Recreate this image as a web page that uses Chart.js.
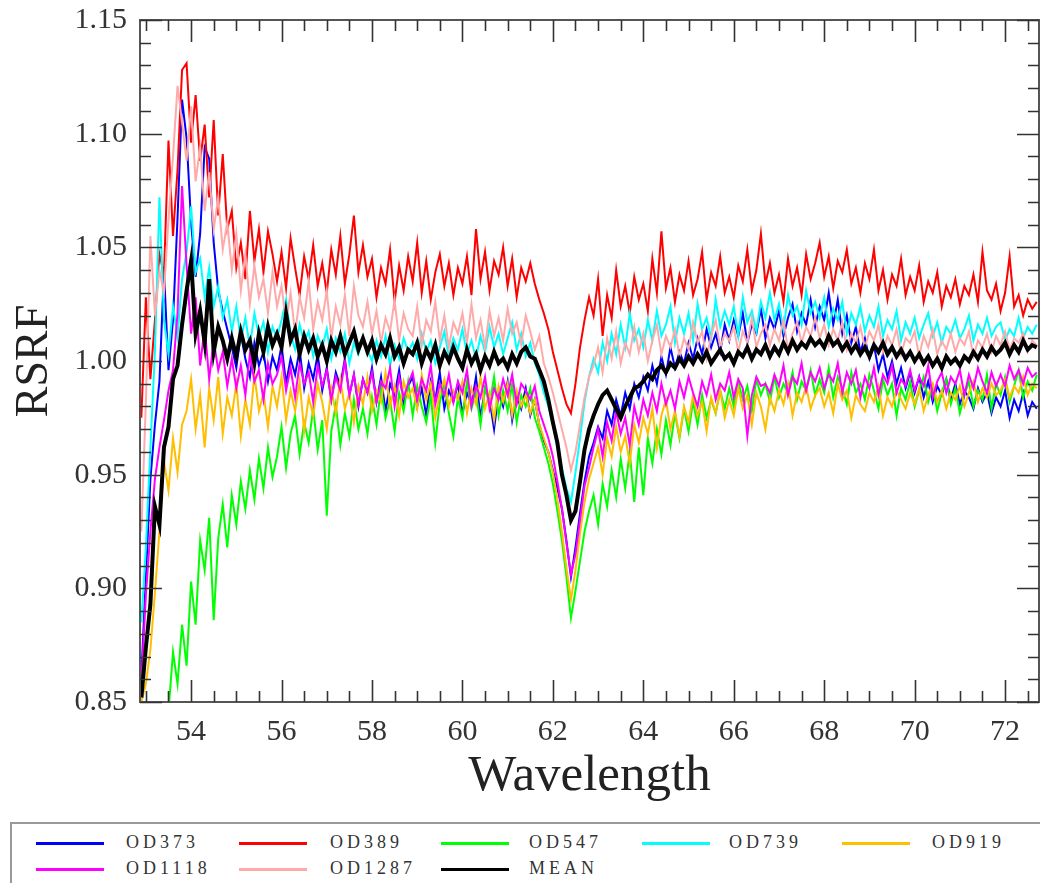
<!DOCTYPE html>
<html>
<head>
<meta charset="utf-8">
<script src="https://cdn.jsdelivr.net/npm/chart.js@4/dist/chart.umd.min.js"></script>
<style>
  html, body { margin: 0; padding: 0; background: #fff; }
  #wrap { position: relative; width: 1040px; height: 883px; overflow: hidden; }
  #plot { position: absolute; left: 0; top: 0; }
  #key { position: absolute; left: 10px; top: 822px; width: 1100px; height: 120px;
         border: 2px solid #999; box-sizing: border-box; }
  .swatch { position: absolute; width: 68px; height: 3px; }
  .name { position: absolute; font: 18px "Liberation Serif", serif; color: #333;
          letter-spacing: 4px; line-height: 20px; }
</style>
</head>
<body>
<div id="wrap">
  <canvas id="plot" width="1040" height="810"></canvas>
  <div id="key"></div>
</div>
<script>
// wavelength grid, one row per 10 samples
const wavelength = [
  52.9, 53.0, 53.1, 53.2, 53.3, 53.4, 53.5, 53.6, 53.7, 53.8,
  53.9, 54.0, 54.1, 54.2, 54.3, 54.4, 54.5, 54.6, 54.7, 54.8,
  54.9, 55.0, 55.1, 55.2, 55.3, 55.4, 55.5, 55.6, 55.7, 55.8,
  55.9, 56.0, 56.1, 56.2, 56.3, 56.4, 56.5, 56.6, 56.7, 56.8,
  56.9, 57.0, 57.1, 57.2, 57.3, 57.4, 57.5, 57.6, 57.7, 57.8,
  57.9, 58.0, 58.1, 58.2, 58.3, 58.4, 58.5, 58.6, 58.7, 58.8,
  58.9, 59.0, 59.1, 59.2, 59.3, 59.4, 59.5, 59.6, 59.7, 59.8,
  59.9, 60.0, 60.1, 60.2, 60.3, 60.4, 60.5, 60.6, 60.7, 60.8,
  60.9, 61.0, 61.1, 61.2, 61.3, 61.4, 61.5, 61.6, 61.7, 61.8,
  61.9, 62.0, 62.1, 62.2, 62.3, 62.4, 62.5, 62.6, 62.7, 62.8,
  62.9, 63.0, 63.1, 63.2, 63.3, 63.4, 63.5, 63.6, 63.7, 63.8,
  63.9, 64.0, 64.1, 64.2, 64.3, 64.4, 64.5, 64.6, 64.7, 64.8,
  64.9, 65.0, 65.1, 65.2, 65.3, 65.4, 65.5, 65.6, 65.7, 65.8,
  65.9, 66.0, 66.1, 66.2, 66.3, 66.4, 66.5, 66.6, 66.7, 66.8,
  66.9, 67.0, 67.1, 67.2, 67.3, 67.4, 67.5, 67.6, 67.7, 67.8,
  67.9, 68.0, 68.1, 68.2, 68.3, 68.4, 68.5, 68.6, 68.7, 68.8,
  68.9, 69.0, 69.1, 69.2, 69.3, 69.4, 69.5, 69.6, 69.7, 69.8,
  69.9, 70.0, 70.1, 70.2, 70.3, 70.4, 70.5, 70.6, 70.7, 70.8,
  70.9, 71.0, 71.1, 71.2, 71.3, 71.4, 71.5, 71.6, 71.7, 71.8,
  71.9, 72.0, 72.1, 72.2, 72.3, 72.4, 72.5, 72.6, 72.7
];

const od373 = [
  0.862, 0.905, 0.948, 0.972, 0.991, 1.040, 0.996, 1.018, 1.063, 1.115,
  1.098, 1.061, 1.037, 1.056, 1.094, 1.089, 1.052, 1.031, 1.022, 1.014,
  1.006, 0.997, 1.012, 1.001, 0.993, 1.008, 0.998, 1.004, 0.991, 1.002,
  0.996, 1.007, 0.990, 1.001, 0.994, 1.005, 0.988, 0.999, 0.992, 1.003,
  0.987, 0.997, 0.983, 0.995, 0.989, 1.001, 0.985, 0.994, 0.980, 0.992,
  0.986, 0.997, 0.982, 0.993, 0.978, 0.990, 0.985, 0.996, 0.981, 0.989,
  0.993, 0.980, 0.988, 0.976, 0.991, 0.983, 0.995, 0.979, 0.987, 0.982,
  0.990, 0.977, 0.986, 0.981, 0.993, 0.975, 0.988, 0.983, 0.970, 0.986,
  0.980, 0.991, 0.974, 0.985, 0.979, 0.988, 0.976, 0.983, 0.972, 0.965,
  0.960, 0.952, 0.944, 0.935, 0.921, 0.905, 0.918, 0.933, 0.947, 0.958,
  0.964, 0.971, 0.966, 0.978, 0.972, 0.983, 0.976, 0.986, 0.979, 0.990,
  0.984, 0.993, 0.987, 0.998, 0.990, 1.002, 0.994, 1.006, 0.997, 1.004,
  0.999, 1.008, 1.001, 1.010, 1.003, 1.014, 1.006, 1.012, 1.004, 1.016,
  1.009, 1.018, 1.011, 1.021, 1.008, 1.016, 1.012, 1.023, 1.010, 1.019,
  1.014, 1.022, 1.011, 1.019, 1.025, 1.013, 1.021, 1.016, 1.027, 1.015,
  1.024, 1.018, 1.030, 1.016, 1.027, 1.012, 1.020, 1.008, 1.015, 1.004,
  1.010, 1.001, 1.007, 0.996, 1.003, 0.993, 1.000, 0.990, 0.997, 0.988,
  0.995, 0.986, 0.993, 0.984, 0.991, 0.982, 0.989, 0.985, 0.992, 0.983,
  0.990, 0.981, 0.987, 0.984, 0.979, 0.988, 0.982, 0.986, 0.977, 0.984,
  0.980, 0.987, 0.975, 0.983, 0.978, 0.986, 0.976, 0.982, 0.979
];

const od389 = [
  0.975, 1.028, 0.992, 1.018, 1.047, 1.038, 1.097, 1.055, 1.084, 1.128,
  1.131, 1.096, 1.117, 1.088, 1.104, 1.072, 1.106, 1.064, 1.091, 1.058,
  1.066, 1.041, 1.052, 1.036, 1.066, 1.044, 1.058, 1.039, 1.057, 1.047,
  1.035, 1.048, 1.032, 1.054, 1.041, 1.029, 1.046, 1.036, 1.051, 1.033,
  1.043, 1.030, 1.049, 1.038, 1.055, 1.034, 1.047, 1.064, 1.039, 1.051,
  1.037, 1.045, 1.028, 1.041, 1.034, 1.049, 1.026, 1.042, 1.031, 1.046,
  1.035, 1.052, 1.030, 1.044, 1.027, 1.039, 1.047, 1.033, 1.043, 1.029,
  1.041, 1.034, 1.046, 1.029, 1.058, 1.036, 1.048, 1.031, 1.044, 1.038,
  1.050, 1.033, 1.045, 1.028, 1.041, 1.035, 1.043, 1.034, 1.027, 1.021,
  1.014, 1.004, 0.996, 0.988, 0.981, 0.977, 0.990, 1.006, 1.018, 1.028,
  1.020, 1.036, 1.011, 1.029, 1.019, 1.040, 1.024, 1.033, 1.021, 1.037,
  1.027, 1.034, 1.022, 1.045, 1.030, 1.057, 1.032, 1.041, 1.026, 1.038,
  1.031, 1.044, 1.029, 1.036, 1.048, 1.027, 1.039, 1.033, 1.046, 1.030,
  1.037, 1.028, 1.042, 1.035, 1.049, 1.031, 1.040, 1.056, 1.034, 1.043,
  1.030, 1.038, 1.026, 1.045, 1.033, 1.041, 1.029, 1.047, 1.036, 1.043,
  1.052, 1.037, 1.046, 1.032, 1.044, 1.039, 1.049, 1.034, 1.041, 1.030,
  1.043, 1.036, 1.049, 1.031, 1.040, 1.027, 1.038, 1.033, 1.045, 1.029,
  1.037, 1.031, 1.042, 1.026, 1.035, 1.030, 1.039, 1.024, 1.033, 1.028,
  1.036, 1.025, 1.033, 1.029, 1.038, 1.026, 1.048, 1.031, 1.027, 1.034,
  1.022, 1.030, 1.046, 1.024, 1.029, 1.020, 1.027, 1.023, 1.026
];

const od547 = [
  0.795, 0.785, 0.800, 0.805, 0.812, 0.828, 0.846, 0.872, 0.858, 0.884,
  0.866, 0.903, 0.884, 0.921, 0.908, 0.931, 0.886, 0.922, 0.937, 0.918,
  0.941, 0.928, 0.947, 0.935, 0.952, 0.939, 0.957, 0.944, 0.962, 0.949,
  0.958, 0.971, 0.953, 0.968, 0.976, 0.959, 0.973, 0.964, 0.979, 0.961,
  0.974, 0.932, 0.969, 0.981, 0.963, 0.977, 0.967, 0.983, 0.970, 0.979,
  0.968, 0.984, 0.972, 0.988, 0.975, 0.983, 0.969, 0.986, 0.978, 0.991,
  0.976, 0.989, 0.980, 0.973, 0.985, 0.964, 0.982, 0.990, 0.977, 0.967,
  0.984, 0.975, 0.991, 0.979, 0.986, 0.972, 0.988, 0.981, 0.993, 0.976,
  0.987, 0.978, 0.990, 0.973, 0.985, 0.980, 0.988, 0.975, 0.969, 0.962,
  0.955, 0.946, 0.934, 0.921, 0.905, 0.887, 0.899, 0.912, 0.925, 0.934,
  0.941, 0.928, 0.946, 0.936, 0.952, 0.940, 0.957, 0.944, 0.960, 0.938,
  0.962, 0.941, 0.966, 0.955, 0.970, 0.959, 0.974, 0.963, 0.977, 0.966,
  0.979, 0.969, 0.982, 0.972, 0.985, 0.975, 0.983, 0.977, 0.987, 0.979,
  0.988, 0.980, 0.991, 0.983, 0.989, 0.978, 0.992, 0.985, 0.990, 0.982,
  0.993, 0.984, 0.990, 0.986, 0.995, 0.983, 0.991, 0.987, 0.996, 0.985,
  0.992, 0.986, 0.997, 0.984, 0.993, 0.988, 0.981, 0.995, 0.986, 0.990,
  0.983, 0.994, 0.987, 0.979, 0.992, 0.985, 0.990, 0.976, 0.988, 0.983,
  0.991, 0.980, 0.987, 0.993, 0.982, 0.989, 0.978, 0.986, 0.992, 0.981,
  0.988, 0.977, 0.985, 0.991, 0.980, 0.987, 0.983, 0.994, 0.979, 0.990,
  0.985, 0.993, 0.982, 0.989, 0.996, 0.984, 0.991, 0.987, 0.994
];

const od739 = [
  0.885, 0.918, 0.962, 1.004, 1.072, 1.018, 1.003, 1.024, 1.011, 1.036,
  1.048, 1.068, 1.039, 1.045, 1.028, 1.041, 1.024, 1.033, 1.019, 1.027,
  1.013, 1.024, 1.009, 1.019, 1.006, 1.021, 1.011, 1.017, 1.004, 1.015,
  1.010, 1.018, 1.027, 1.012, 1.005, 1.016, 1.008, 1.013, 1.002, 1.011,
  1.006, 1.014, 1.001, 1.010, 1.004, 1.012, 0.999, 1.008, 1.003, 1.011,
  1.005, 1.000, 1.009, 1.002, 1.011, 0.998, 1.007, 1.001, 1.010, 1.004,
  1.008, 1.001, 1.012, 1.004, 1.009, 0.999, 1.006, 1.013, 1.002, 1.010,
  1.005, 1.014, 1.003, 1.009, 1.001, 1.011, 1.004, 1.015, 1.006, 1.012,
  1.003, 1.010, 1.017, 1.005, 1.012, 1.002, 1.008, 0.999, 0.994, 0.986,
  0.980, 0.972, 0.962, 0.953, 0.944, 0.938, 0.951, 0.966, 0.982, 0.993,
  1.001, 0.995, 1.008, 1.000, 1.012, 1.003, 1.016, 1.006, 1.021, 1.009,
  1.014, 1.006, 1.018, 1.009, 1.022, 1.011, 1.016, 1.024, 1.008, 1.019,
  1.012, 1.021, 1.009, 1.025, 1.014, 1.019, 1.010, 1.027, 1.015, 1.022,
  1.016, 1.024, 1.011, 1.028, 1.017, 1.022, 1.013, 1.026, 1.019, 1.030,
  1.018, 1.025, 1.014, 1.029, 1.020, 1.024, 1.016, 1.031, 1.021, 1.026,
  1.019, 1.028, 1.015, 1.023, 1.018, 1.026, 1.012, 1.021, 1.016, 1.024,
  1.013, 1.020, 1.015, 1.024, 1.011, 1.018, 1.014, 1.022, 1.009, 1.017,
  1.012, 1.019, 1.010, 1.016, 1.021, 1.011, 1.017, 1.008, 1.015, 1.012,
  1.018, 1.010, 1.014, 1.020, 1.009, 1.016, 1.012, 1.019, 1.011, 1.015,
  1.017, 1.009, 1.014, 1.011, 1.019, 1.010, 1.015, 1.012, 1.016
];

const od919 = [
  0.850, 0.858, 0.873, 0.898, 0.925, 0.956, 0.943, 0.966, 0.951, 0.972,
  0.978, 0.992, 0.970, 0.985, 0.962, 0.988, 0.974, 0.993, 0.968, 0.984,
  0.976, 0.990, 0.967, 0.983, 0.972, 0.994, 0.978, 0.986, 0.971, 0.989,
  0.980, 0.993, 0.974, 0.987, 0.978, 0.991, 0.969, 0.984, 0.976, 0.990,
  0.982, 0.970, 0.988, 0.977, 0.992, 0.979, 0.986, 0.973, 0.989, 0.981,
  0.993, 0.978, 0.987, 0.982, 0.995, 0.980, 0.989, 0.976, 0.991, 0.984,
  0.988, 0.979, 0.994, 0.983, 0.990, 0.975, 0.986, 0.992, 0.980, 0.987,
  0.983, 0.991, 0.977, 0.988, 0.981, 0.993, 0.979, 0.986, 0.974, 0.989,
  0.982, 0.990, 0.976, 0.987, 0.980, 0.985, 0.977, 0.983, 0.972, 0.966,
  0.960, 0.951, 0.939, 0.925, 0.909, 0.895, 0.908, 0.924, 0.938, 0.948,
  0.955, 0.962, 0.950, 0.966, 0.958, 0.971, 0.960, 0.967, 0.955, 0.972,
  0.964, 0.975, 0.968, 0.979, 0.962, 0.976, 0.983, 0.970, 0.978, 0.967,
  0.980, 0.973, 0.985, 0.976, 0.982, 0.969, 0.984, 0.977, 0.987, 0.975,
  0.983, 0.976, 0.988, 0.979, 0.985, 0.972, 0.986, 0.980, 0.970, 0.984,
  0.978, 0.987, 0.981, 0.990, 0.976, 0.986, 0.982, 0.989, 0.979, 0.985,
  0.988, 0.980, 0.986, 0.977, 0.990, 0.983, 0.987, 0.975, 0.985, 0.981,
  0.978, 0.986, 0.982, 0.989, 0.976, 0.984, 0.980, 0.987, 0.983, 0.979,
  0.986, 0.981, 0.988, 0.978, 0.985, 0.990, 0.982, 0.987, 0.979, 0.986,
  0.983, 0.989, 0.980, 0.986, 0.991, 0.982, 0.988, 0.984, 0.990, 0.985,
  0.987, 0.992, 0.984, 0.989, 0.986, 0.993, 0.985, 0.990, 0.988
];

const od1118 = [
  0.858, 0.897, 0.925, 0.948, 0.962, 0.974, 0.987, 0.996, 1.021, 1.077,
  1.042, 1.012, 1.028, 0.998, 1.015, 0.992, 1.009, 0.996, 1.004, 0.989,
  1.001, 0.988, 0.998, 0.985, 1.003, 0.991, 0.996, 0.983, 0.999, 0.990,
  0.994, 1.002, 0.987, 0.997, 0.984, 0.999, 0.990, 0.995, 0.982, 0.998,
  0.989, 0.996, 0.983, 0.993, 0.987, 1.000, 0.985, 0.994, 0.981, 0.992,
  0.986, 0.995, 0.982, 0.991, 0.988, 0.997, 0.980, 0.993, 0.984, 0.990,
  0.995, 0.983, 0.992, 0.987, 0.998, 0.981, 0.990, 0.985, 0.994, 0.982,
  0.991, 0.986, 0.996, 0.980, 0.989, 0.984, 0.993, 0.979, 0.988, 0.983,
  0.992, 0.985, 0.994, 0.981, 0.990, 0.987, 0.983, 0.989, 0.978, 0.972,
  0.966, 0.958, 0.947, 0.935, 0.920, 0.906, 0.915, 0.930, 0.945, 0.953,
  0.962, 0.970, 0.958, 0.973, 0.965, 0.978, 0.968, 0.975, 0.963, 0.980,
  0.972, 0.983, 0.976, 0.986, 0.978, 0.990, 0.981, 0.987, 0.979, 0.991,
  0.984, 0.993, 0.986, 0.980, 0.991, 0.985, 0.994, 0.983, 0.990, 0.987,
  0.995, 0.984, 0.992, 0.988, 0.967, 0.985, 0.993, 0.989, 0.990, 0.986,
  0.994, 0.989, 0.998, 0.985, 0.993, 0.990, 0.999, 0.987, 0.995, 0.991,
  0.997, 0.988, 0.994, 0.991, 0.999, 0.986, 0.995, 0.990, 0.996, 0.984,
  0.993, 0.988, 0.997, 0.985, 0.994, 0.990, 0.998, 0.986, 0.992, 0.989,
  0.996, 0.987, 0.993, 0.989, 0.998, 0.984, 0.991, 0.995, 0.986, 0.993,
  0.990, 0.996, 0.985, 0.994, 0.988, 0.997, 0.991, 0.986, 0.995, 0.989,
  0.994, 0.989, 0.998, 0.992, 0.996, 0.990, 0.997, 0.993, 0.995
];

const od1287 = [
  0.925, 0.982, 1.055, 1.020, 1.040, 1.030, 1.062, 1.090, 1.121, 1.105,
  1.088, 1.112, 1.079, 1.094, 1.066, 1.083, 1.058, 1.072, 1.049, 1.061,
  1.040, 1.056, 1.031, 1.047, 1.025, 1.042, 1.028, 1.036, 1.021, 1.039,
  1.024, 1.033, 1.017, 1.030, 1.012, 1.028, 1.019, 1.035, 1.014, 1.026,
  1.018, 1.031, 1.010, 1.024, 1.016, 1.029, 1.011, 1.033, 1.020, 1.015,
  1.026, 1.012, 1.022, 1.008, 1.019, 1.013, 1.027, 1.009, 1.021, 1.014,
  1.011, 1.024, 1.007, 1.018, 1.013, 1.026, 1.009, 1.020, 1.006, 1.017,
  1.012, 1.021, 1.008, 1.025, 1.010, 1.018, 1.006, 1.022, 1.011, 1.019,
  1.009, 1.023, 1.012, 1.017, 1.007, 1.020, 1.013, 1.005, 1.011, 0.999,
  0.993, 0.986, 0.978, 0.970, 0.962, 0.952, 0.960, 0.972, 0.984, 0.993,
  0.998, 1.006, 0.995, 1.010, 1.001, 1.013, 0.999, 1.008, 1.003, 1.015,
  1.004, 1.012, 1.000, 1.009, 1.016, 1.003, 1.011, 1.006, 1.014, 1.002,
  1.010, 1.005, 1.017, 1.008, 1.013, 1.001, 1.011, 1.018, 1.006, 1.012,
  1.009, 1.015, 1.004, 1.013, 1.008, 1.019, 1.006, 1.012, 1.016, 1.007,
  1.014, 1.009, 1.018, 1.005, 1.012, 1.017, 1.008, 1.015, 1.011, 1.019,
  1.010, 1.016, 1.007, 1.014, 1.009, 1.017, 1.005, 1.012, 1.008, 1.015,
  1.006, 1.013, 1.009, 1.016, 1.004, 1.011, 1.007, 1.014, 1.003, 1.010,
  1.008, 1.013, 1.002, 1.011, 1.006, 1.014, 1.003, 1.009, 1.005, 1.012,
  1.004, 1.010, 1.007, 1.013, 1.002, 1.009, 1.006, 1.012, 1.004, 1.011,
  1.007, 1.013, 1.005, 1.010, 1.008, 1.012, 1.004, 1.009, 1.007
];

const mean = [
  0.852, 0.874, 0.893, 0.936, 0.928, 0.962, 0.971, 0.992, 0.998, 1.016,
  1.031, 1.044, 1.012, 1.022, 1.008, 1.036, 1.004, 1.015, 1.009, 1.001,
  1.010, 1.002, 1.013, 1.005, 1.009, 0.999, 1.012, 1.004, 1.015, 1.007,
  1.012, 1.006, 1.021, 1.009, 1.014, 1.003, 1.011, 1.005, 1.010, 1.002,
  1.007, 1.000, 1.009, 1.004, 1.011, 1.003, 1.008, 1.013, 1.005, 1.010,
  1.004, 1.009, 1.001, 1.007, 1.003, 1.010, 1.002, 1.006, 0.999, 1.005,
  1.003, 1.008, 0.999, 1.005, 1.001, 1.007, 0.998, 1.004, 1.000, 1.006,
  1.001, 0.997, 1.005, 0.999, 1.003, 0.996, 1.002, 0.998, 1.004, 0.999,
  1.001, 0.997, 1.003, 0.999, 1.004, 1.006, 1.002, 1.001, 0.996, 0.991,
  0.983, 0.973, 0.964, 0.950, 0.941, 0.930, 0.934, 0.947, 0.961, 0.970,
  0.976, 0.981, 0.985, 0.987, 0.983, 0.979, 0.975, 0.980, 0.984, 0.988,
  0.989, 0.991, 0.994, 0.992, 0.996, 0.998, 0.995, 0.999, 0.997, 1.001,
  0.998, 1.002, 0.999, 1.003, 1.000, 1.004, 0.999, 1.002, 1.005, 1.001,
  1.003, 0.999, 1.004, 1.002, 1.006, 1.001, 1.005, 1.003, 1.007, 1.002,
  1.006, 1.003, 1.008, 1.004, 1.009, 1.005, 1.008, 1.006, 1.010, 1.007,
  1.009, 1.006, 1.011, 1.007, 1.009, 1.005, 1.008, 1.004, 1.007, 1.003,
  1.006, 1.002, 1.007, 1.004, 1.008, 1.003, 1.006, 1.002, 1.005, 1.001,
  1.004, 1.000, 1.003, 0.999, 1.002, 0.998, 1.001, 0.997, 1.002, 0.999,
  1.001, 0.998, 1.002, 1.000, 1.004, 1.001, 1.005, 1.002, 1.006, 1.003,
  1.005, 1.008, 1.003, 1.007, 1.004, 1.009, 1.005, 1.007, 1.006
];

const seriesNames = ['OD373', 'OD389', 'OD547', 'OD739', 'OD919', 'OD1118', 'OD1287', 'MEAN'];
const seriesValues = [od373, od389, od547, od739, od919, od1118, od1287, mean];
const seriesColors = ['#0000ff', '#ff0000', '#00ff00', '#00ffff', '#ffbf00', '#ff00ff', '#ffaaaa', '#000000'];

// frame round the plot with inward ticks on all four sides
const axisFrame = {
  id: 'axisFrame',
  afterDatasetsDraw(chart) {
    const { ctx, chartArea: a, scales: { x, y } } = chart;
    ctx.save();
    ctx.strokeStyle = '#555';
    ctx.lineWidth = 2;
    ctx.strokeRect(a.left, a.top, a.right - a.left, a.bottom - a.top);
    ctx.strokeStyle = '#333';
    ctx.lineWidth = 1.6;
    ctx.beginPath();
    for (let k = 106; k <= 145; k++) {          // every 0.5 in wavelength
      const px = Math.round(x.getPixelForValue(k / 2)) + 0.5;
      if (px <= a.left + 1 || px >= a.right - 1) continue;
      const len = k % 4 === 0 ? 22 : 11;
      ctx.moveTo(px, a.bottom); ctx.lineTo(px, a.bottom - len);
      ctx.moveTo(px, a.top); ctx.lineTo(px, a.top + len);
    }
    for (let k = 85; k <= 115; k++) {           // every 0.01 in RSRF
      const py = Math.round(y.getPixelForValue(k / 100)) + 0.5;
      const len = k % 5 === 0 ? 22 : 11;
      ctx.moveTo(a.left, py); ctx.lineTo(a.left + len, py);
      ctx.moveTo(a.right, py); ctx.lineTo(a.right - len, py);
    }
    ctx.stroke();
    ctx.restore();
  }
};

const serif = '"Liberation Serif", "Times New Roman", serif';

const datasets = seriesNames.map((name, i) => ({
  label: name,
  data: wavelength.map((w, j) => ({ x: w, y: seriesValues[i][j] })),
  borderColor: seriesColors[i],
  backgroundColor: seriesColors[i],
  borderWidth: name === 'MEAN' ? 4 : 2,
  pointRadius: 0,
  tension: 0,
  order: seriesNames.length - 1 - i   // MEAN ends up on top
}));

new Chart(document.getElementById('plot'), {
  type: 'line',
  data: { datasets },
  options: {
    responsive: false,
    animation: false,
    devicePixelRatio: 1,
    layout: { padding: { left: 0, top: 20, right: 1, bottom: 0 } },
    plugins: {
      legend: { display: false },
      tooltip: { enabled: false }
    },
    scales: {
      x: {
        type: 'linear',
        min: 52.87,
        max: 72.75,
        grid: { display: false, drawTicks: false, tickLength: 0 },
        border: { display: false },
        afterFit: (s) => { s.height = 108; s.paddingLeft = 0; s.paddingRight = 0; },
        ticks: {
          stepSize: 2,
          includeBounds: false,
          autoSkip: false,
          maxRotation: 0,
          padding: 12,
          color: '#333',
          font: { family: serif, size: 30 },
          callback: (v) => String(v)
        },
        title: {
          display: true,
          text: 'Wavelength',
          color: '#222',
          font: { family: serif, size: 51 },
          padding: { top: 0, bottom: 3 }
        }
      },
      y: {
        min: 0.85,
        max: 1.15,
        grid: { display: false, drawTicks: false, tickLength: 0 },
        border: { display: false },
        afterFit: (s) => { s.width = 140; s.paddingTop = 0; s.paddingBottom = 0; },
        ticks: {
          stepSize: 0.05,
          padding: 13,
          color: '#333',
          font: { family: serif, size: 30 },
          callback: (v) => v.toFixed(2)
        },
        title: {
          display: true,
          text: 'RSRF',
          color: '#222',
          font: { family: serif, size: 46 },
          padding: { top: 7, bottom: 0 }
        }
      }
    }
  },
  plugins: [axisFrame]
});

// legend box below the plot, five entries per row
const keyLineX = [36, 239, 441, 642, 842];
const keyTextX = [126, 330, 529, 729, 932];
const keyRowY = [843, 869];
const key = document.getElementById('key');
seriesNames.forEach((name, i) => {
  const col = i % 5, row = Math.floor(i / 5);
  const sw = document.createElement('div');
  sw.className = 'swatch';
  sw.style.background = seriesColors[i];
  sw.style.left = (keyLineX[col] - 12) + 'px';
  sw.style.top = (keyRowY[row] - 824 - 1.5) + 'px';
  key.appendChild(sw);
  const tx = document.createElement('div');
  tx.className = 'name';
  tx.textContent = name;
  tx.style.left = (keyTextX[col] - 12) + 'px';
  tx.style.top = (keyRowY[row] - 824 - 11) + 'px';
  key.appendChild(tx);
});
</script>
</body>
</html>
